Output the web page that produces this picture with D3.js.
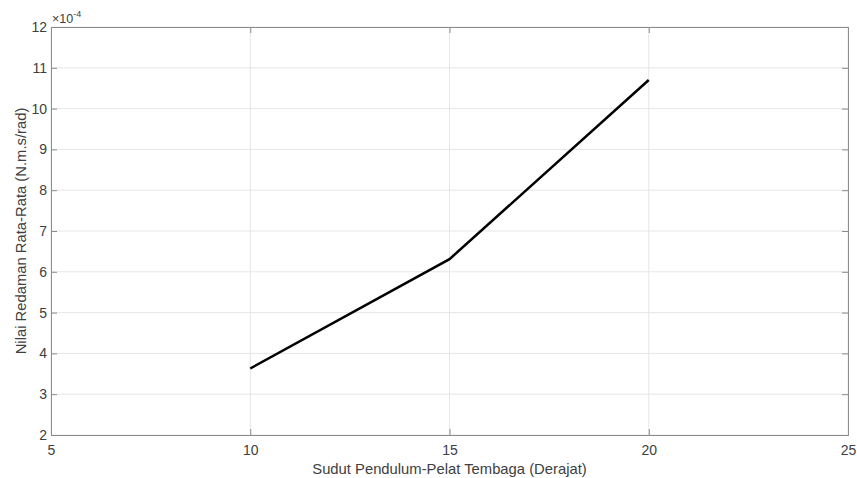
<!DOCTYPE html>
<html>
<head>
<meta charset="utf-8">
<script src="https://cdn.jsdelivr.net/npm/d3@7"></script>
<style>
  body { margin: 0; background: #fff; }
  svg text { font-family: "Liberation Sans", Arial, sans-serif; fill: #404040; }
</style>
</head>
<body>
<svg id="chart"></svg>
<script>
//// data
var angles = [10, 15, 20];
var damping = [3.63, 6.31, 10.70]; // x 10^-4
var xTicks = [5, 10, 15, 20, 25];
var yTicks = [2, 3, 4, 5, 6, 7, 8, 9, 10, 11, 12];

//// layout
var width = 857, height = 478;
var plotLeft = 51, plotRight = 848, plotTop = 27, plotBottom = 435;
var tickLen = 6;

var svg = d3.select('#chart')
  .attr('width', width)
  .attr('height', height);

var xScale = d3.scaleLinear().domain([5, 25]).range([plotLeft, plotRight]);
var yScale = d3.scaleLinear().domain([2, 12]).range([plotBottom, plotTop]);

// grid
var grid = svg.append('g').attr('class', 'grid');
grid.selectAll('.gx')
  .data(xTicks)
  .enter()
  .append('line')
    .attr('x1', d => xScale(d)).attr('x2', d => xScale(d))
    .attr('y1', plotTop).attr('y2', plotBottom)
    .attr('stroke', '#e6e6e6').attr('stroke-width', 1);
grid.selectAll('.gy')
  .data(yTicks)
  .enter()
  .append('line')
    .attr('y1', d => yScale(d)).attr('y2', d => yScale(d))
    .attr('x1', plotLeft).attr('x2', plotRight)
    .attr('stroke', '#e6e6e6').attr('stroke-width', 1);

// axes (ticks inside, box)
var xAxisB = d3.axisBottom(xScale).tickValues(xTicks).tickSize(-tickLen).tickPadding(10);
var xAxisT = d3.axisTop(xScale).tickValues(xTicks).tickSize(-tickLen).tickFormat('');
var yAxisL = d3.axisLeft(yScale).tickValues(yTicks).tickSize(-tickLen).tickPadding(4);
var yAxisR = d3.axisRight(yScale).tickValues(yTicks).tickSize(-tickLen).tickFormat('');

function styleAxis(g) {
  g.select('.domain').attr('stroke', '#8c8c8c');
  g.selectAll('.tick line').attr('stroke', '#8c8c8c');
  g.selectAll('.tick text').attr('fill', '#404040').style('font-size', '14px')
    .style('font-family', '"Liberation Sans", Arial, sans-serif');
}

svg.append('g').attr('transform', `translate(0,${plotBottom})`).call(xAxisB).call(styleAxis);
svg.append('g').attr('transform', `translate(0,${plotTop})`).call(xAxisT).call(styleAxis);
svg.append('g').attr('transform', `translate(${plotLeft},0)`).call(yAxisL).call(styleAxis);
svg.append('g').attr('transform', `translate(${plotRight},0)`).call(yAxisR).call(styleAxis);

// line
var line = d3.line()
  .x((d, i) => xScale(angles[i]))
  .y(d => yScale(d));

svg.append('path')
  .datum(damping)
  .attr('fill', 'none')
  .attr('stroke', '#000')
  .attr('stroke-width', 2.5)
  .attr('d', line);

// exponent label
var expo = svg.append('text')
  .attr('x', plotLeft + 1)
  .attr('y', plotTop - 4)
  .style('font-size', '12.5px');
expo.append('tspan').text('\u00d710');
expo.append('tspan').attr('dy', -6).style('font-size', '9px').text('-4');

// axis labels
svg.append('text')
  .attr('x', (plotLeft + plotRight) / 2)
  .attr('y', 474)
  .attr('text-anchor', 'middle')
  .style('font-size', '14.8px')
  .text('Sudut Pendulum-Pelat Tembaga (Derajat)');

svg.append('text')
  .attr('transform', `translate(26,${(plotTop + plotBottom) / 2}) rotate(-90)`)
  .attr('text-anchor', 'middle')
  .style('font-size', '14.8px')
  .text('Nilai Redaman Rata-Rata (N.m.s/rad)');
</script>
</body>
</html>
